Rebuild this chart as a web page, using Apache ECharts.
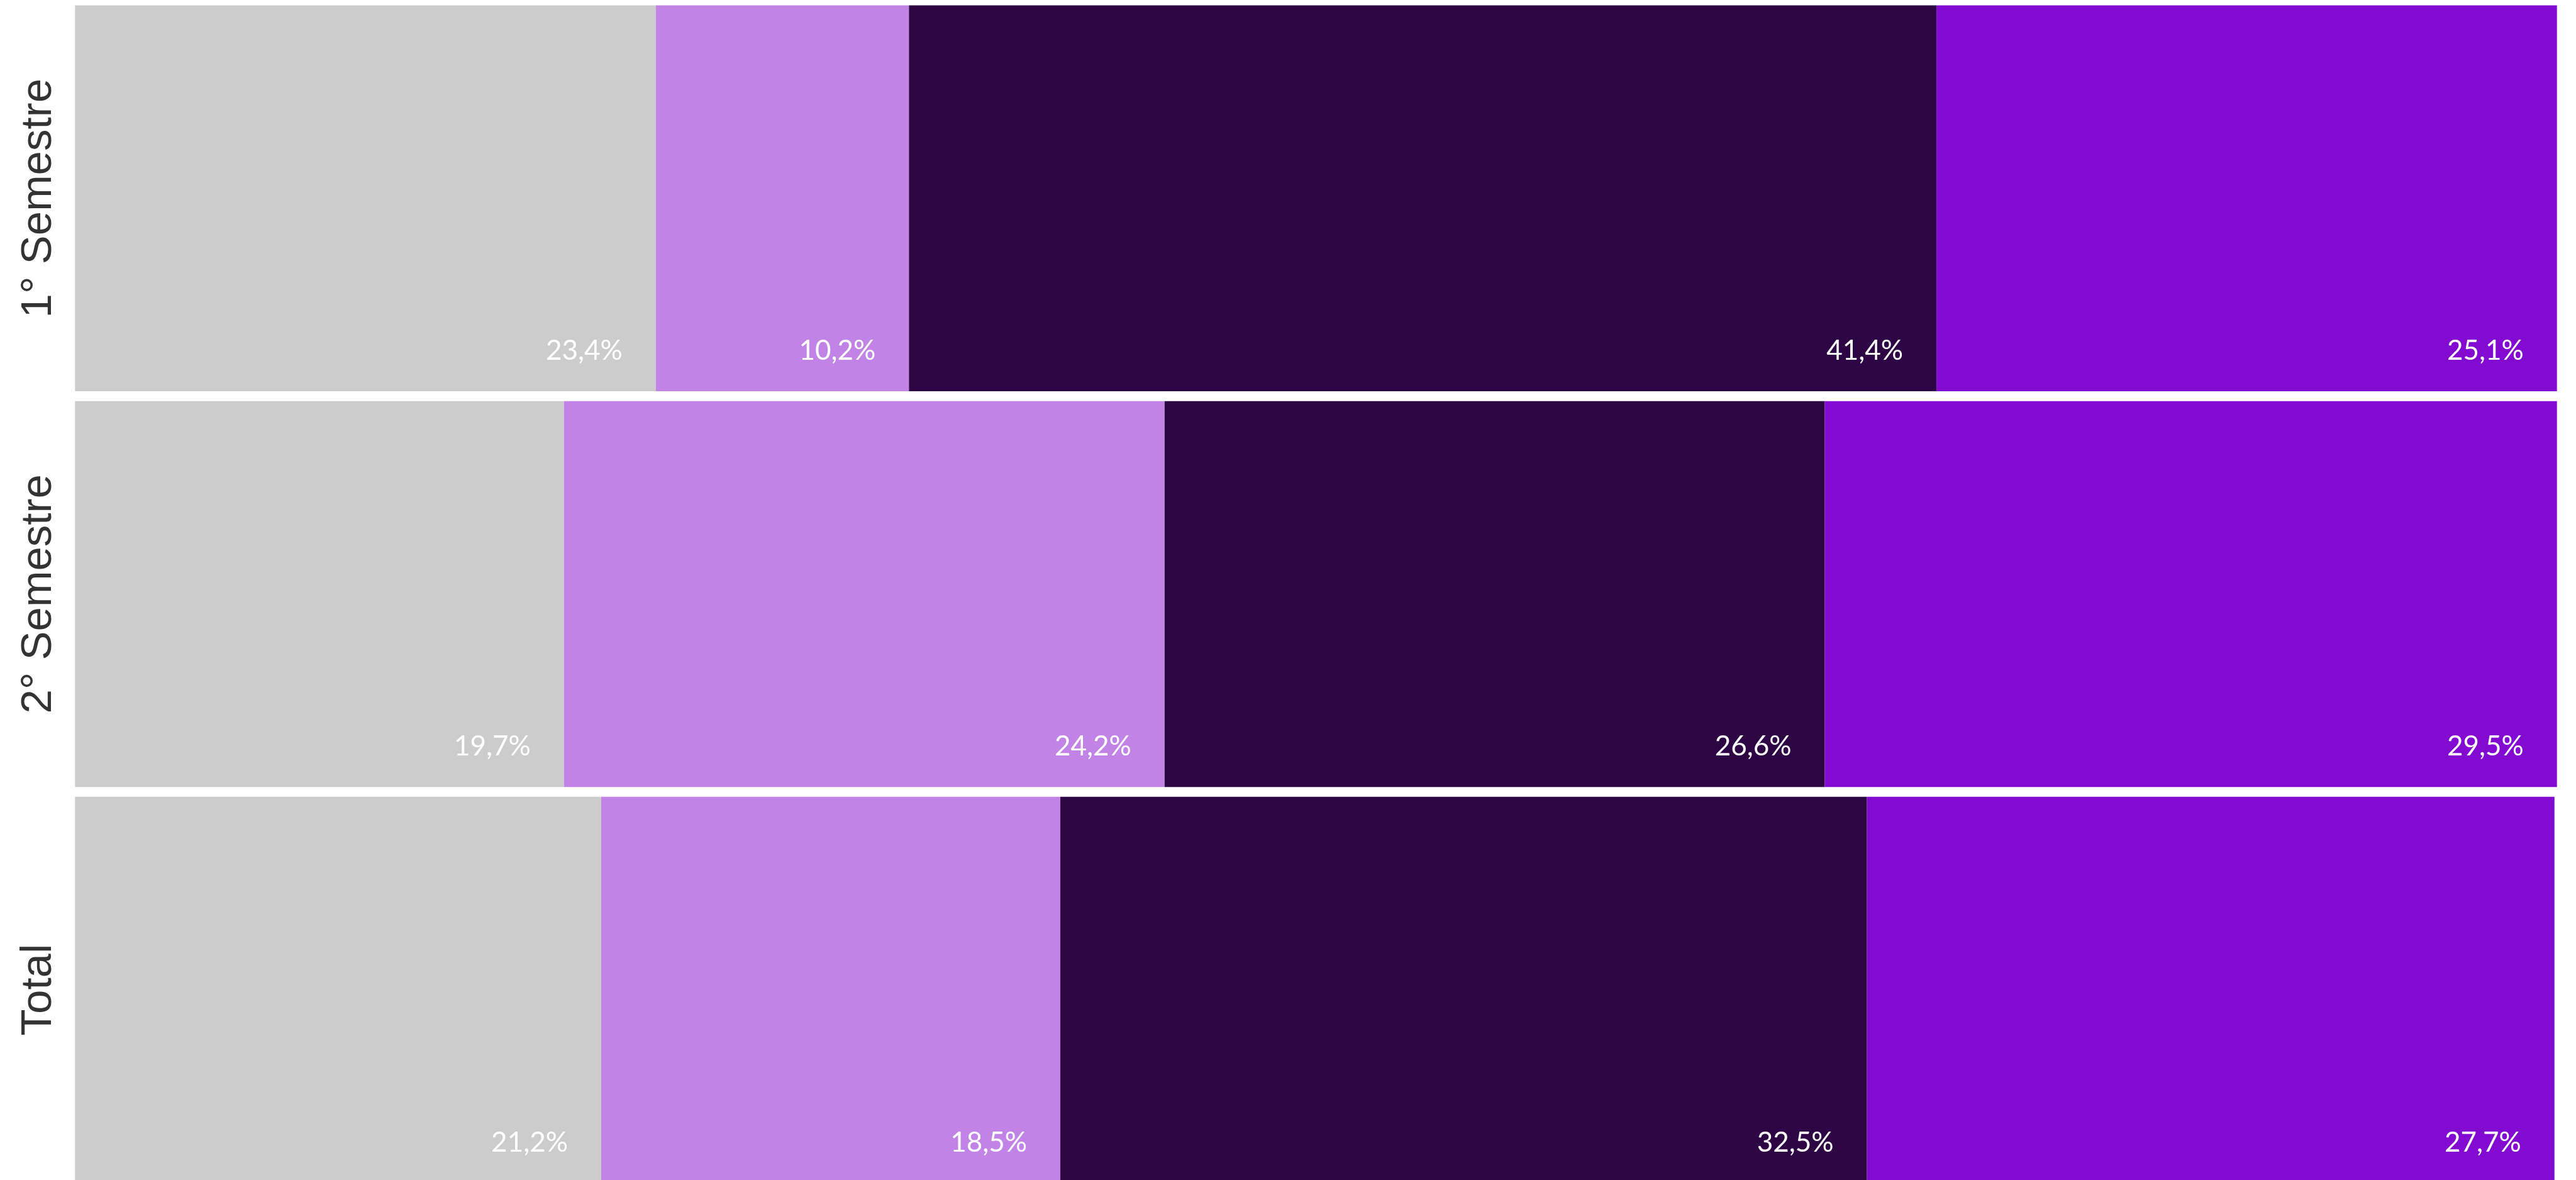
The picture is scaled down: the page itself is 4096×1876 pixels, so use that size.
<!DOCTYPE html>
<html>
<head>
<meta charset="utf-8">
<script src="https://cdn.jsdelivr.net/npm/echarts@6/dist/echarts.min.js"></script>
<style>
html,body{margin:0;padding:0;background:#fff;}
#chart{width:4096px;height:1876px;}
</style>
</head>
<body>
<div id="chart"></div>
<script>
// Data
var categories = ['1° Semestre', '2° Semestre', 'Total'];
var seriesNames = ['Grupo 1', 'Grupo 2', 'Grupo 3', 'Grupo 4'];
var grupo1 = [23.4, 19.7, 21.2];
var grupo2 = [10.2, 24.2, 18.5];
var grupo3 = [41.4, 26.6, 32.5];
var grupo4 = [25.1, 29.5, 27.7];

var colors = ['#CCCCCC', '#C184E6', '#2D0545', '#820AD1'];
var values = [grupo1, grupo2, grupo3, grupo4];

var chart = echarts.init(document.getElementById('chart'), null, {renderer: 'canvas'});

function fmt(v) {
  return v.toFixed(1).replace('.', ',') + '%';
}

var series = values.map(function (arr, i) {
  return {
    name: seriesNames[i],
    type: 'bar',
    stack: 'total',
    data: arr,
    barCategoryGap: '2.5%',
    itemStyle: {color: colors[i]},
    label: {
      show: true,
      position: ['100%', '100%'],
      align: 'right',
      verticalAlign: 'bottom',
      offset: [-53, -42],
      color: '#FFFFFF',
      fontFamily: 'Lato',
      fontSize: 44,
      formatter: function (p) { return fmt(p.value); }
    },
    emphasis: {disabled: true}
  };
});

chart.setOption({
  animation: false,
  backgroundColor: '#FFFFFF',
  grid: {left: 119.3, right: 30.3, top: 0.6, height: 1887.6, containLabel: false, outerBoundsMode: 'none'},
  xAxis: {
    type: 'value',
    min: 0,
    max: 100,
    show: false
  },
  yAxis: {
    type: 'category',
    data: categories,
    inverse: true,
    axisLine: {show: false},
    axisTick: {show: false},
    splitLine: {show: false},
    axisLabel: {
      rotate: 90,
      margin: 23,
      color: '#333333',
      fontFamily: 'Liberation Sans',
      fontSize: 69
    }
  },
  series: series
});
</script>
</body>
</html>
